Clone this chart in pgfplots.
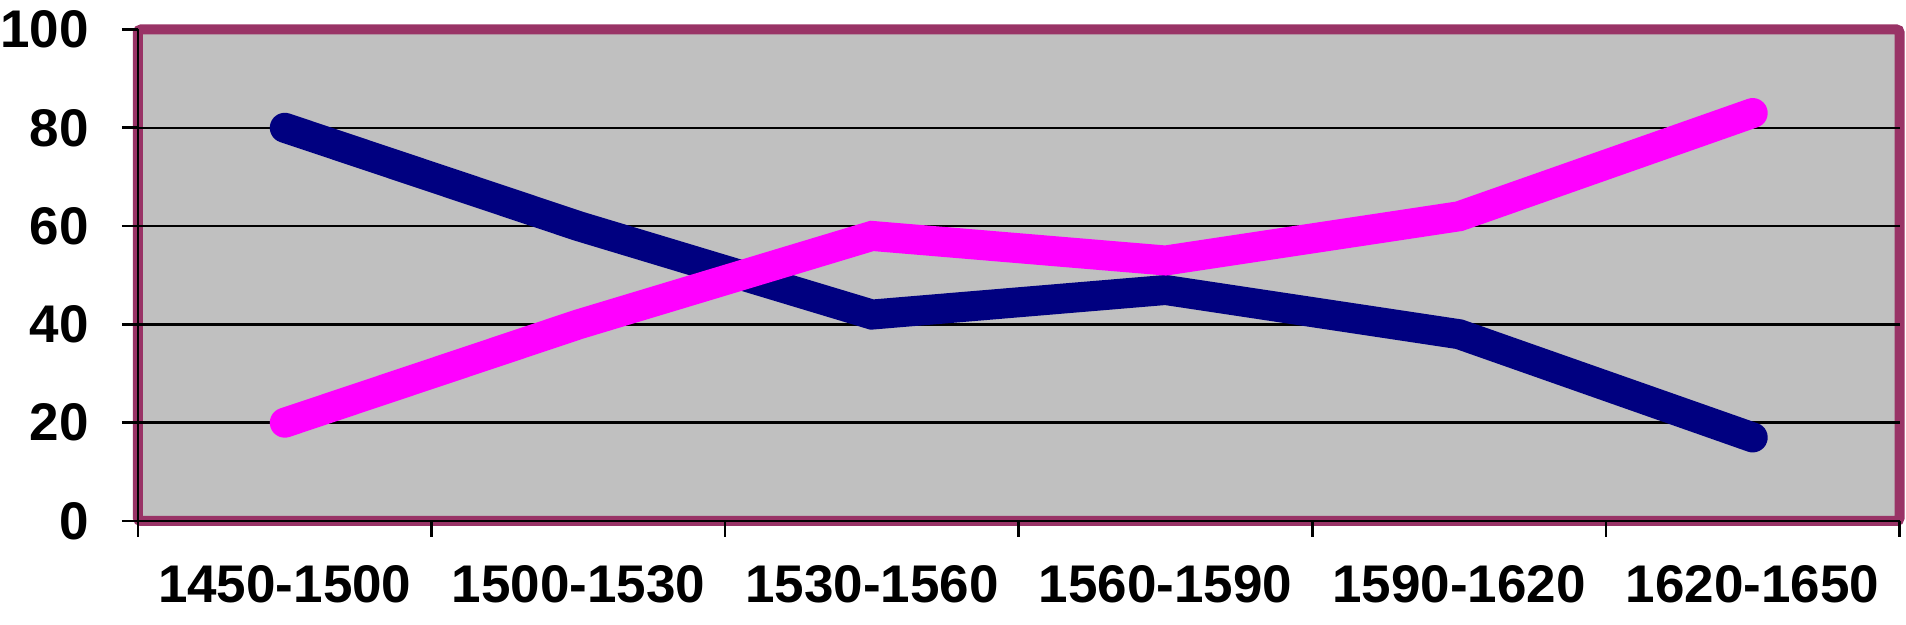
\documentclass[border=0pt]{standalone}
\usepackage{pgfplots}
\pgfplotsset{compat=1.18}
\usepackage{fontspec}
\setmainfont{Liberation Sans}
\definecolor{navyline}{HTML}{000080}
\definecolor{pinkline}{HTML}{FF00FF}
\definecolor{framecol}{HTML}{993366}
\definecolor{bgcol}{HTML}{C0C0C0}
\begin{document}
\begin{tikzpicture}
\begin{axis}[
  at={(0,0)}, anchor=south west,
  width=880.75pt, height=245.75pt, scale only axis,
  xmin=0, xmax=6, ymin=0, ymax=100,
  axis x line=bottom, axis y line=left,
  axis line style={-, black, line width=1.3pt},
  every outer x axis line/.append style={-},
  every outer y axis line/.append style={-},
  xtick={0,1,...,6}, x tick label as interval,
  xticklabels={1450-1500,1500-1530,1530-1560,1560-1590,1590-1620,1620-1650},
  ytick={0,20,...,80},
  extra y ticks={100},
  extra y tick style={grid=none},
  tick align=outside, major tick length=8pt,
  tick style={black, line width=1.3pt},
  ymajorgrids, xmajorgrids=false,
  major grid style={black, line width=1.2pt},
  axis background/.style={fill=bgcol, draw=framecol, line width=5pt, rounded corners=1.5pt},
  tick label style={font=\fontsize{26.5}{30}\selectfont\bfseries},
  /pgf/number format/assume math mode=true,
  yticklabel style={anchor=east, inner sep=0pt, xshift=-16.5pt},
  xticklabel style={anchor=north, inner sep=0pt, yshift=-14pt},
  clip=false,
]
\addplot[navyline, line width=15pt, line cap=round, line join=miter, mark=none]
  coordinates {(0.5,80) (1.5,60) (2.5,42) (3.5,47) (4.5,38) (5.5,17)};
\addplot[pinkline, line width=15pt, line cap=round, line join=miter, mark=none]
  coordinates {(0.5,20) (1.5,40) (2.5,58) (3.5,53) (4.5,62) (5.5,83)};
\end{axis}
\path (-69pt,-52pt) rectangle (884pt,260.5pt);
\end{tikzpicture}
\end{document}
